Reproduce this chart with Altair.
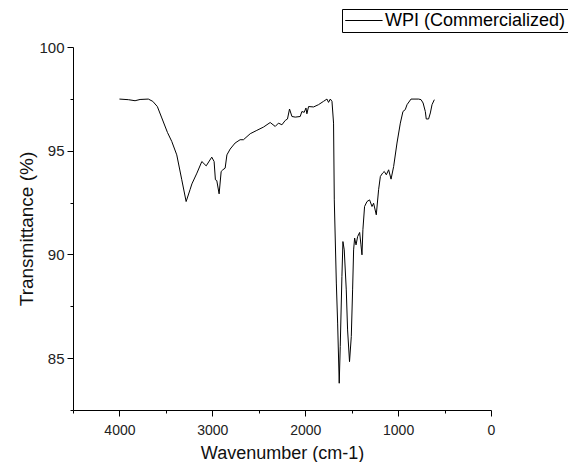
import altair as alt
import pandas as pd

# FTIR spectrum
wavenumber = [
    4000, 3904, 3832, 3778, 3689, 3641, 3592, 3544, 3483, 3437, 3383, 3329, 3282,
    3240, 3220, 3166, 3113, 3066, 3006, 2981, 2967, 2952, 2927, 2905, 2887, 2862,
    2843, 2808, 2755, 2701, 2665, 2592, 2521, 2449, 2377, 2323, 2288, 2251, 2215,
    2191, 2169, 2143, 2107, 2054, 2036, 2011, 1992, 1982, 1964, 1910, 1857, 1803,
    1766, 1749, 1730, 1712, 1695, 1687, 1665, 1651, 1634, 1623, 1605, 1594, 1580,
    1558, 1544, 1523, 1504, 1490, 1479, 1468, 1453, 1436, 1414, 1400, 1389, 1379,
    1361, 1335, 1307, 1281, 1264, 1235, 1210, 1191, 1167, 1149, 1127, 1102, 1076,
    1048, 1012, 976, 948, 923, 904, 861, 779, 753, 731, 707, 697, 672, 653, 635, 610,
]
transmittance = [
    97.49, 97.46, 97.41, 97.47, 97.49, 97.38, 97.13, 96.58, 95.88, 95.45, 94.80, 93.60, 92.55,
    93.12, 93.40, 93.92, 94.48, 94.27, 94.69, 94.48, 93.60, 93.56, 92.92, 94.00, 94.08, 94.16,
    94.80, 95.08, 95.37, 95.53, 95.53, 95.82, 95.98, 96.14, 96.36, 96.17, 96.33, 96.25, 96.46,
    96.53, 97.01, 96.65, 96.62, 96.65, 96.89, 96.85, 97.06, 96.78, 97.13, 97.11, 97.22, 97.38,
    97.49, 97.33, 97.49, 97.38, 96.33, 92.63, 88.62, 86.69, 83.79, 85.56, 88.93, 90.62, 90.22,
    88.29, 86.36, 84.83, 86.04, 88.29, 90.22, 90.79, 90.46, 90.86, 91.06, 90.46, 89.98, 91.19,
    92.31, 92.55, 92.63, 92.31, 92.47, 91.91, 93.12, 93.76, 93.92, 94.00, 93.84, 94.08, 93.63,
    94.24, 95.37, 96.33, 96.89, 96.98, 97.22, 97.49, 97.49, 97.46, 97.30, 96.89, 96.53, 96.53, 96.82, 97.22, 97.46,
]
series_name = "WPI (Commercialized)"

x_tick_values = [4500, 4000, 3500, 3000, 2500, 2000, 1500, 1000, 500, 0]
y_tick_values = [82.5, 85, 87.5, 90, 92.5, 95, 97.5, 100]

df = pd.DataFrame({"wavenumber": wavenumber, "transmittance": transmittance})
df["series"] = series_name
df["order"] = range(len(df))

FONT = "Liberation Sans"

x_axis = alt.Axis(
    title="Wavenumber (cm-1)",
    values=x_tick_values,
    labelExpr="datum.value % 1000 === 0 ? format(datum.value, 'd') : ''",
    tickSize={"condition": {"test": "datum.value % 1000 === 0", "value": 6}, "value": 3},
    labelPadding=7,
    labelFont=FONT,
    labelFontSize=14,
    labelColor="#222222",
    labelFlush=False,
    labelOverlap=False,
    titleFont=FONT,
    titleFontSize=18,
    titleFontWeight="normal",
    titleColor="#111111",
    titleBaseline="alphabetic",
    titleY=48,
    grid=False,
    domainColor="black",
    tickColor="black",
)

y_axis = alt.Axis(
    title="Transmittance (%)",
    values=y_tick_values,
    labelExpr="datum.value % 5 === 0 ? format(datum.value, 'd') : ''",
    tickSize={"condition": {"test": "datum.value % 5 === 0", "value": 6}, "value": 3},
    labelPadding=3,
    labelFont=FONT,
    labelFontSize=15,
    labelColor="#222222",
    labelOverlap=False,
    titleFont=FONT,
    titleFontSize=19,
    titleFontWeight="normal",
    titleColor="#111111",
    titleBaseline="alphabetic",
    titleX=-41,
    titleY=181.5,
    grid=False,
    domainColor="black",
    tickColor="black",
)

legend = alt.Legend(
    title=None,
    orient="none",
    legendX=269,
    legendY=-38,
    symbolType="M-2.8,0H2.8",
    symbolSize=178,
    symbolStrokeWidth=1,
    symbolOffset=10.4,
    labelOffset=12,
    labelFont=FONT,
    labelFontSize=18,
    labelColor="black",
    labelLimit=400,
    padding=2.5,
    strokeColor="black",
    fillColor="white",
)

chart = (
    alt.Chart(df)
    .mark_line(strokeWidth=1)
    .encode(
        x=alt.X(
            "wavenumber:Q",
            scale=alt.Scale(domain=[0, 4500], reverse=True, nice=False, zero=False),
            axis=x_axis,
        ),
        y=alt.Y(
            "transmittance:Q",
            scale=alt.Scale(domain=[82.5, 100], nice=False, zero=False),
            axis=y_axis,
        ),
        color=alt.Color("series:N", scale=alt.Scale(range=["black"]), legend=legend),
        order="order:Q",
    )
    .properties(
        width=418,
        height=363,
        autosize=alt.AutoSizeParams(type="none"),
        padding={"left": 65, "top": 39, "right": 77, "bottom": 52},
        background="white",
    )
    .configure_view(strokeWidth=0)
)

chart.save("out.html", embed_options={"renderer": "svg", "actions": False})
